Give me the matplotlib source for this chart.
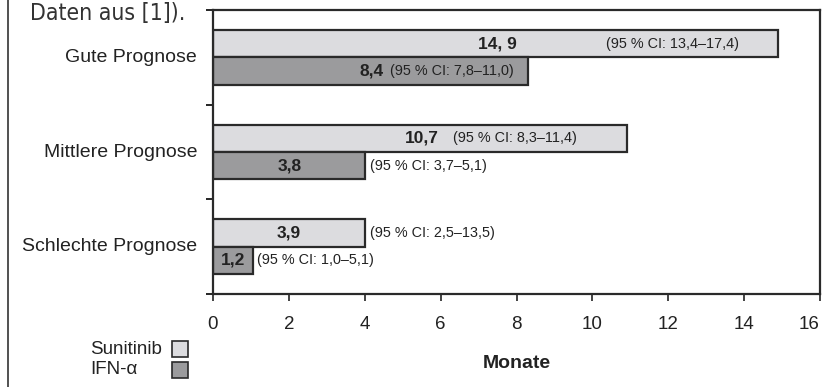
import matplotlib.pyplot as plt
from matplotlib.patches import Rectangle
import numpy as np

plt.rcParams["font.family"] = ["Liberation Sans", "DejaVu Sans"]

categories = ["Gute Prognose", "Mittlere Prognose", "Schlechte Prognose"]
# bar lengths as drawn in the picture (months)
sunitinib = [14.9, 10.9, 4.0]
ifn = [8.3, 4.0, 1.05]
# printed medians and confidence intervals
sun_labels = ["14, 9", "10,7", "3,9"]
ifn_labels = ["8,4", "3,8", "1,2"]
sun_ci = ["(95 % CI: 13,4\u201317,4)", "(95 % CI: 8,3\u201311,4)", "(95 % CI: 2,5\u201313,5)"]
ifn_ci = ["(95 % CI: 7,8\u201311,0)", "(95 % CI: 3,7\u20135,1)", "(95 % CI: 1,0\u20135,1)"]

SUN_COLOR = "#dcdcdf"
IFN_COLOR = "#9b9b9d"
EDGE = "#2a2a2a"
TXT = "#222222"

fig = plt.figure(figsize=(8.25, 3.87), dpi=100)
ax = fig.add_axes([213 / 825, 1 - 294 / 387, 607 / 825, 284 / 387])

y = np.arange(len(categories))
h = 0.29
ax.barh(y - h / 2, sunitinib, height=h, color=SUN_COLOR, edgecolor=EDGE, linewidth=1.6)
ax.barh(y + h / 2, ifn, height=h, color=IFN_COLOR, edgecolor=EDGE, linewidth=1.6)

ax.set_xlim(0, 16)
ax.set_ylim(2.5, -0.5)
ax.set_xticks(np.arange(0, 17, 2))
ax.set_yticks([-0.5, 0.5, 1.5, 2.5])
ax.set_yticklabels([])
ax.tick_params(axis="x", length=5, width=1.2, pad=11, labelsize=13.5, colors=TXT)
ax.tick_params(axis="y", length=5, width=1.2)
ax.get_xticklabels()[-1].set_horizontalalignment("right")
for s in ax.spines.values():
    s.set_linewidth(1.6)
    s.set_edgecolor(EDGE)

for i, cat in enumerate(categories):
    ax.text(-0.42, i, cat, ha="right", va="center", fontsize=14, color=TXT)

# value labels and CI texts (x positions)
sun_val_x = [7.5, 5.5, 2.0]
sun_ci_x = [10.35, 6.33, 4.14]
ifn_val_x = [4.19, 2.03, 0.53]
ifn_ci_x = [4.67, 4.14, 1.16]
for i in range(len(categories)):
    ax.text(sun_val_x[i], i - h / 2, sun_labels[i], ha="center", va="center",
            fontsize=12.5, fontweight="bold", color=TXT)
    ax.text(sun_ci_x[i], i - h / 2, sun_ci[i], ha="left", va="center",
            fontsize=10.4, color=TXT)
    ax.text(ifn_val_x[i], i + h / 2, ifn_labels[i], ha="center", va="center",
            fontsize=12.5, fontweight="bold", color=TXT)
    ax.text(ifn_ci_x[i], i + h / 2, ifn_ci[i], ha="left", va="center",
            fontsize=10.4, color=TXT)

ax.set_xlabel("Monate", fontsize=14, fontweight="bold", color=TXT, labelpad=16)

# legend drawn manually: text left, box right
W, H = 825, 387
for label, color, yc in [("Sunitinib", SUN_COLOR, 349), ("IFN-\u03b1", IFN_COLOR, 370)]:
    fig.text(90 / W, 1 - yc / H, label, ha="left", va="center", fontsize=13.5, color=TXT)
    fig.patches.append(Rectangle((172 / W, 1 - (yc + 8) / H), 16 / W, 16 / H,
                                 transform=fig.transFigure, facecolor=color,
                                 edgecolor=EDGE, linewidth=1.2))

# outer frame line and cut-off caption
fig.add_artist(plt.Line2D([8 / W, 8 / W], [0, 1], color="#333333", linewidth=1.2))
fig.text(30 / W, 1 - 20 / H, "Daten aus [1]).", ha="left", va="baseline", fontsize=16.5,
         color="#333333", fontstretch="condensed", fontweight="light",
         family=["DejaVu Sans", "Liberation Sans"])

fig.savefig("out.png", dpi=100)
